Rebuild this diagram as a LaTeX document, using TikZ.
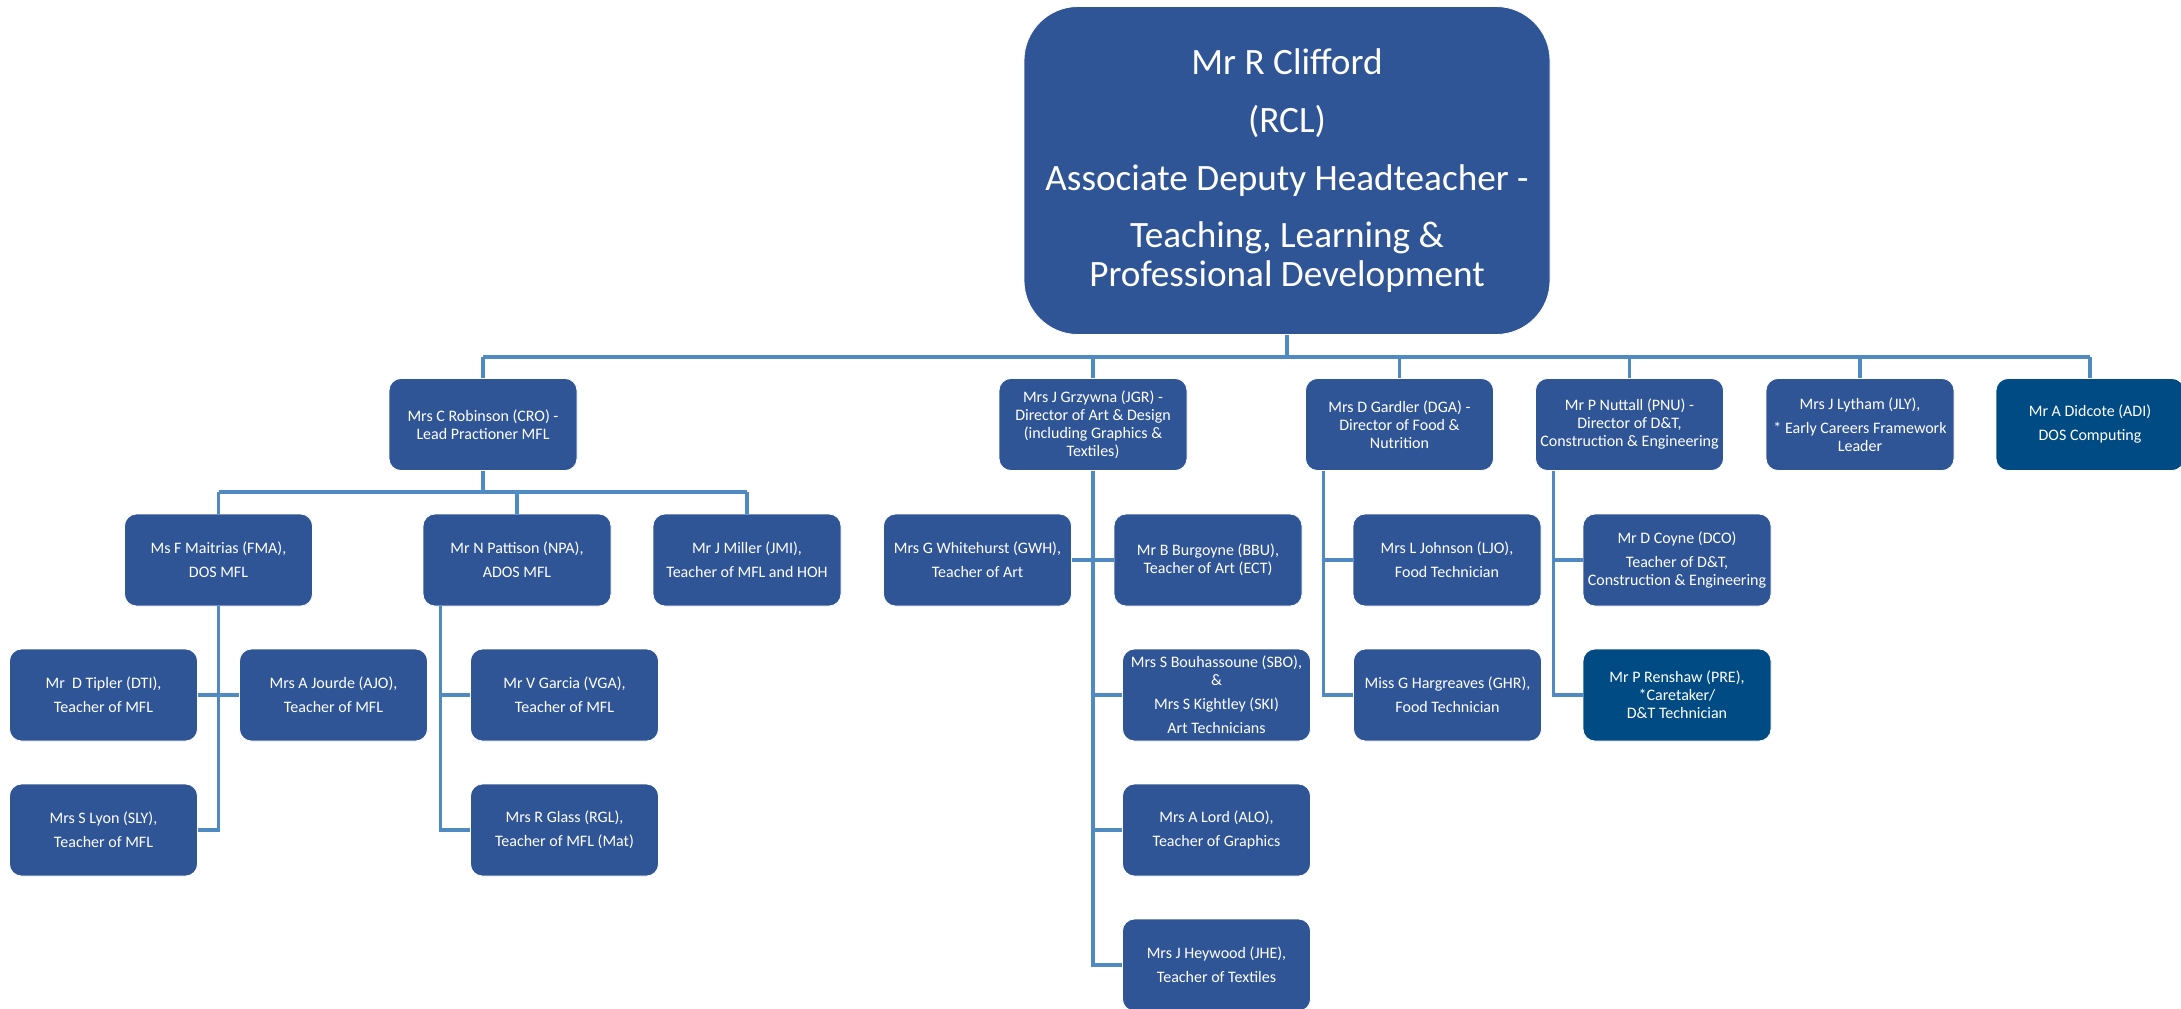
\documentclass[tikz,border=0pt]{standalone}
\usepackage{fontspec}
\setmainfont{Carlito}
\definecolor{boxblue}{RGB}{47,85,151}
\definecolor{darkblue}{RGB}{0,75,132}
\definecolor{linkblue}{RGB}{80,138,195}
\begin{document}
\begin{tikzpicture}[x=0.5pt, y=-0.5pt,
    box/.style={draw=white, line width=0.4pt, fill=boxblue, text=white, rounded corners=6pt,
      minimum width=94pt, minimum height=46pt, inner sep=0pt, align=center,
      font=\fontsize{8}{9}\selectfont},
    darkbox/.style={box, fill=darkblue},
    headbox/.style={box, rounded corners=27pt, minimum width=263pt, minimum height=164pt,
      font=\fontsize{18.6}{19.2}\selectfont},
    link/.style={draw=linkblue, line width=1.6pt}]
      \useasboundingbox (0,0) rectangle (2181,1008);
      \node[headbox] (rcl) at (1287,170.5) {Mr R Clifford\\[9.6pt](RCL)\\[9.6pt]Associate Deputy Headteacher -\\[9.6pt]Teaching, Learning \&\\Professional Development};
      \node[box] (cro) at (483,424.5) {Mrs C Robinson (CRO) -\\Lead Practioner MFL};
      \node[box] (jgr) at (1093,424.5) {Mrs J Grzywna (JGR) -\\Director of Art \& Design\\(including Graphics \&\\Textiles)};
      \node[box] (dga) at (1399.5,424.5) {Mrs D Gardler (DGA) -\\Director of Food \&\\Nutrition};
      \node[box] (pnu) at (1629.5,424.5) {Mr P Nuttall (PNU) -\\Director of D\&T,\\Construction \& Engineering};
      \node[box] (jly) at (1860,424.5) {Mrs J Lytham (JLY),\\[3pt]* Early Careers Framework\\Leader};
      \node[darkbox] (adi) at (2090,424.5) {Mr A Didcote (ADI)\\[3pt]DOS Computing};
      \node[box] (fma) at (218.5,560) {Ms F Maitrias (FMA),\\[3pt]DOS MFL};
      \node[box] (npa) at (517,560) {Mr N Pattison (NPA),\\[3pt]ADOS MFL};
      \node[box] (jmi) at (747,560) {Mr J Miller (JMI),\\[3pt]Teacher of MFL and HOH};
      \node[box] (gwh) at (977.5,560) {Mrs G Whitehurst (GWH),\\[3pt]Teacher of Art};
      \node[box] (bbu) at (1208,560) {Mr B Burgoyne (BBU),\\Teacher of Art (ECT)};
      \node[box] (ljo) at (1447,560) {Mrs L Johnson (LJO),\\[3pt]Food Technician};
      \node[box] (dco) at (1677,560) {Mr D Coyne (DCO)\\[3pt]Teacher of D\&T,\\Construction \& Engineering};
      \node[box] (dti) at (103.5,695) {Mr\ \ D Tipler (DTI),\\[3pt]Teacher of MFL};
      \node[box] (ajo) at (333.5,695) {Mrs A Jourde (AJO),\\[3pt]Teacher of MFL};
      \node[box] (vga) at (564.5,695) {Mr V Garcia (VGA),\\[3pt]Teacher of MFL};
      \node[box] (sbo) at (1216.5,695) {Mrs S Bouhassoune (SBO),\\\&\\[3pt]Mrs S Kightley (SKI)\\[3pt]Art Technicians};
      \node[box] (ghr) at (1447.5,695) {Miss G Hargreaves (GHR),\\[3pt]Food Technician};
      \node[darkbox] (pre) at (1677,695) {Mr P Renshaw (PRE),\\*Caretaker/\\D\&T Technician};
      \node[box] (sly) at (103.5,830) {Mrs S Lyon (SLY),\\[3pt]Teacher of MFL};
      \node[box] (rgl) at (564.5,830) {Mrs R Glass (RGL),\\[3pt]Teacher of MFL (Mat)};
      \node[box] (alo) at (1216.5,830) {Mrs A Lord (ALO),\\[3pt]Teacher of Graphics};
      \node[box] (jhe) at (1216.5,965) {Mrs J Heywood (JHE),\\[3pt]Teacher of Textiles};
      \coordinate (bus) at (0,357);
      \coordinate (crobus) at (0,492);
      \draw[link] (rcl.south) -- (rcl.south |- bus);
      \draw[link] (cro.north |- bus) -- (adi.north |- bus);
      \draw[link] (cro.north) -- (cro.north |- bus);
      \draw[link] (jgr.north) -- (jgr.north |- bus);
      \draw[link] (dga.north) -- (dga.north |- bus);
      \draw[link] (pnu.north) -- (pnu.north |- bus);
      \draw[link] (jly.north) -- (jly.north |- bus);
      \draw[link] (adi.north) -- (adi.north |- bus);
      \draw[link] (cro.south) -- (cro.south |- crobus);
      \draw[link] (fma.north |- crobus) -- (jmi.north |- crobus);
      \draw[link] (fma.north) -- (fma.north |- crobus);
      \draw[link] (npa.north) -- (npa.north |- crobus);
      \draw[link] (jmi.north) -- (jmi.north |- crobus);
      \draw[link] (fma.south) -- (fma.south |- sly.east) -- (sly.east);
      \draw[link] (dti) -- (ajo);
      \draw[link] ([xshift=9pt]npa.south west) |- (rgl.west);
      \draw[link] ([xshift=9pt]npa.south west |- vga.west) -- (vga.west);
      \draw[link] (jgr.south) -- (jgr.south |- jhe.west) -- (jhe.west);
      \draw[link] (gwh) -- (bbu);
      \draw[link] (jgr.south |- sbo.west) -- (sbo.west);
      \draw[link] (jgr.south |- alo.west) -- (alo.west);
      \draw[link] ([xshift=9pt]dga.south west) |- (ghr.west);
      \draw[link] ([xshift=9pt]dga.south west |- ljo.west) -- (ljo.west);
      \draw[link] ([xshift=9pt]pnu.south west) |- (pre.west);
      \draw[link] ([xshift=9pt]pnu.south west |- dco.west) -- (dco.west);
    \end{tikzpicture}
\end{document}
